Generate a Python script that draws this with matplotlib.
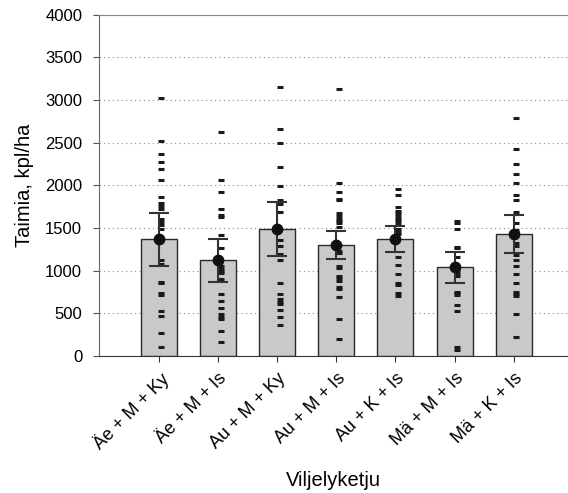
import numpy as np
import matplotlib.pyplot as plt

plt.rcParams['font.family'] = ['Liberation Sans', 'DejaVu Sans']

categories = ['Äe + M + Ky', 'Äe + M + Is', 'Au + M + Ky', 'Au + M + Is',
              'Au + K + Is', 'Mä + M + Is', 'Mä + K + Is']
means = [1370, 1122, 1490, 1302, 1375, 1046, 1435]
err_low = [1056, 872, 1169, 1138, 1223, 860, 1204]
err_high = [1674, 1372, 1810, 1470, 1525, 1223, 1654]

obs_1 = [3023, 2518, 2366, 2272, 2193, 2061, 1861, 1798, 1760, 1721, 1607, 1572,
         1533, 1493, 1126, 1076, 872, 853, 735, 716, 531, 473, 266, 102]
obs_2 = [2628, 2061, 1924, 1724, 1657, 1630, 1419, 1263, 1059, 1024, 1001, 970,
         899, 727, 649, 563, 493, 461, 430, 293, 161]
obs_3 = [3159, 2663, 2491, 2221, 1994, 1830, 1783, 1693, 1361, 1294, 1196, 1126,
         860, 727, 665, 633, 606, 540, 461, 364]
obs_4 = [3128, 2029, 1924, 1842, 1830, 1674, 1642, 1611, 1587, 1557, 1517, 1235,
         1205, 1059, 1036, 942, 911, 883, 813, 790, 696, 430, 196]
obs_5 = [1963, 1892, 1751, 1704, 1674, 1642, 1611, 1580, 1548, 1486, 1455, 1424,
         1165, 1067, 962, 853, 833, 735, 704]
obs_6 = [1587, 1564, 1493, 1282, 1263, 1165, 1009, 970, 938, 754, 735, 716,
         598, 528, 102, 70]
obs_7 = [2792, 2424, 2256, 2135, 2033, 1892, 1826, 1689, 1564, 1478, 1322, 1294,
         1181, 1126, 1059, 962, 860, 754, 727, 704, 496, 226]
observations = [obs_1, obs_2, obs_3, obs_4, obs_5, obs_6, obs_7]

fig = plt.figure(figsize=(5.68, 4.93), dpi=100)
ax = fig.add_axes([0.174, 0.278, 0.826, 0.692])

x = np.arange(len(categories))
means = np.array(means)
yerr = [means - np.array(err_low), np.array(err_high) - means]

ax.bar(x, means, width=0.61, color='#c8c9cb', edgecolor='#2a2a2a', linewidth=1.0, zorder=2)

for i, obs in enumerate(observations):
    ax.plot(np.full(len(obs), i + 0.04), obs, linestyle='none', marker='_',
            markersize=5, markeredgewidth=2.2, color='#1a1a1a', zorder=3)

ax.errorbar(x, means, yerr=yerr, fmt='o', color='#111111', ecolor='#333333',
            elinewidth=1.5, capsize=7.5, capthick=1.5, markersize=7.5, zorder=4)

ax.set_ylim(0, 4000)
ax.set_xlim(-1.02, 6.92)
ax.set_yticks(range(0, 4001, 500))
ax.yaxis.grid(True, linestyle=(0, (1, 3)), color='#8a8a8a', linewidth=0.8, zorder=0)
ax.set_axisbelow(True)

ax.set_xticks(x)
ax.set_xticklabels(categories, rotation=45, ha='right', rotation_mode='anchor', fontsize=13)
ax.tick_params(axis='y', labelsize=12, direction='out', length=4, pad=8, color='#555555')
ax.tick_params(axis='x', direction='out', length=4, pad=6, color='#333333')

ax.spines['right'].set_visible(False)
ax.spines['top'].set_color('#888888')
ax.spines['left'].set_color('#666666')
ax.spines['bottom'].set_color('#333333')

ax.set_ylabel('Taimia, kpl/ha', fontsize=14.5, labelpad=8)
ax.set_xlabel('Viljelyketju', fontsize=14.5, labelpad=13)

fig.savefig('out.png', dpi=100)
